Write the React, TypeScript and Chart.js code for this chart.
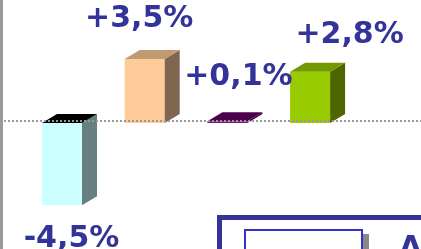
import React, { useEffect, useRef } from "react";
import { Chart, registerables } from "chart.js";

Chart.register(...registerables);

// ---- data ----
const categories = ["1", "2", "3", "4"];
const values = [-4.5, 3.5, 0.1, 2.8];
const valueLabels = ["-4,5%", "+3,5%", "+0,1%", "+2,8%"];
const yMin = -6.885;
const yMax = 6.72;

// ---- styles ----
const frontColors = ["#CCFFFF", "#FFCC99", "#7A1A7A", "#99CC00"];
const sideColors = ["#668080", "#806650", "#330033", "#4D6600"];
const topColors = ["#000000", "#C09A70", "#4D004D", "#739900"];
const labelDx = [9.5, -5.5, 11, 39.5];
const labelDy = [42, -31.5, -36, -29];
const DEPTH_X = 15;
const DEPTH_Y = 9;
const TEXT_COLOR = "#333399";

const decorPlugin = {
  id: "decor3d",
  afterDatasetsDraw(chart: any) {
    const ctx = chart.ctx as CanvasRenderingContext2D;
    const meta = chart.getDatasetMeta(0);
    const zeroY = chart.scales.y.getPixelForValue(0);
    ctx.save();
    meta.data.forEach((el: any, i: number) => {
      const { x, y, base, width } = el.getProps(["x", "y", "base", "width"], true);
      const L = x - width / 2;
      const R = x + width / 2;
      const top = Math.min(y, base);
      const bot = Math.max(y, base);
      // side face
      ctx.fillStyle = sideColors[i];
      ctx.beginPath();
      ctx.moveTo(R, top);
      ctx.lineTo(R + DEPTH_X, top - DEPTH_Y);
      ctx.lineTo(R + DEPTH_X, bot - DEPTH_Y);
      ctx.lineTo(R, bot);
      ctx.closePath();
      ctx.fill();
      // top face
      ctx.fillStyle = topColors[i];
      ctx.beginPath();
      ctx.moveTo(L, top);
      ctx.lineTo(L + DEPTH_X, top - DEPTH_Y);
      ctx.lineTo(R + DEPTH_X, top - DEPTH_Y);
      ctx.lineTo(R, top);
      ctx.closePath();
      ctx.fill();
    });

    // dotted zero line
    ctx.strokeStyle = "#9a9a9a";
    ctx.lineWidth = 2;
    ctx.setLineDash([2, 2]);
    ctx.beginPath();
    ctx.moveTo(0, Math.round(zeroY) - 2);
    ctx.lineTo(chart.width, Math.round(zeroY) - 2);
    ctx.stroke();
    ctx.setLineDash([]);

    // value labels
    ctx.fillStyle = TEXT_COLOR;
    ctx.font = "bold 30px 'DejaVu Sans'";
    ctx.textAlign = "center";
    ctx.textBaseline = "alphabetic";
    meta.data.forEach((el: any, i: number) => {
      const { x, y } = el.getProps(["x", "y"], true);
      ctx.fillText(valueLabels[i], x + labelDx[i], y + labelDy[i]);
    });

    // left border
    ctx.fillStyle = "#999999";
    ctx.fillRect(0, 0, 3, chart.height);

    // partially visible legend box (bottom-right)
    ctx.strokeStyle = "#333399";
    ctx.lineWidth = 5;
    ctx.strokeRect(219.5, 217.5, 400, 100);
    ctx.fillStyle = "#888888";
    ctx.fillRect(363, 234, 6, 40);
    ctx.fillStyle = "#ffffff";
    ctx.fillRect(245, 230, 117, 40);
    ctx.strokeStyle = "#3333CC";
    ctx.lineWidth = 2;
    ctx.strokeRect(245, 230, 117, 40);
    ctx.fillStyle = TEXT_COLOR;
    ctx.font = "bold 30px 'DejaVu Sans'";
    ctx.textAlign = "center";
    ctx.fillText("A", 410.5, 257);
    ctx.restore();
  },
};

export default function App() {
  const ref = useRef<HTMLCanvasElement | null>(null);
  useEffect(() => {
    document.body.style.margin = "0";
    const canvas = ref.current;
    if (!canvas) return;
    const chart = new Chart(canvas, {
      type: "bar",
      data: {
        labels: categories,
        datasets: [
          {
            data: values,
            backgroundColor: frontColors,
            borderWidth: 0,
            barPercentage: 0.4837,
            categoryPercentage: 1,
          },
        ],
      },
      options: {
        responsive: false,
        animation: false,
        devicePixelRatio: 1,
        layout: { padding: { left: 20.65, right: 69.55, top: 0, bottom: 0 } },
        plugins: { legend: { display: false }, tooltip: { enabled: false } },
        scales: {
          x: { display: false, grid: { display: false } },
          y: { display: false, min: yMin, max: yMax, grid: { display: false } },
        },
      },
      plugins: [decorPlugin],
    });
    return () => chart.destroy();
  }, []);
  return (
    <div style={{ position: "fixed", left: 0, top: 0, width: 421, height: 249, background: "#fff" }}>
      <canvas ref={ref} width={421} height={249} style={{ display: "block" }} />
    </div>
  );
}
